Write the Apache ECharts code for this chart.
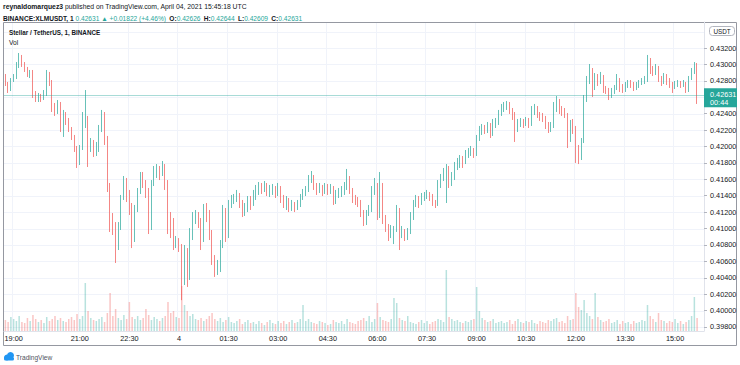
<!DOCTYPE html>
<html><head><meta charset="utf-8">
<style>html,body{margin:0;padding:0;background:#fff}#c{width:740px;height:365px}</style>
<script src="https://cdn.jsdelivr.net/npm/echarts@6/dist/echarts.min.js"></script>
</head><body><div id="c"></div>
<script>
// 5-minute candles from 18:45 (Apr 3) to 15:40 (Apr 4): [open, close, low, high]
const candles = [
[.42834,.42761,.42737,.42883],[.42761,.42688,.42652,.42786],[.42688,.42810,.42676,.42834],[.42810,.42847,.42786,.42883],[.42847,.42981,.42822,.43029],
[.42981,.43090,.42956,.43139],[.43090,.43005,.42969,.43115],[.43005,.42956,.42908,.43029],[.42956,.42883,.42847,.42969],[.42883,.42908,.42834,.42932],
[.42908,.42664,.42591,.42932],[.42664,.42591,.42542,.42676],[.42591,.42615,.42542,.42652],[.42615,.42579,.42542,.42640],[.42579,.42640,.42566,.42688],
[.42640,.42883,.42615,.42932],[.42883,.42786,.42737,.42908],[.42786,.42506,.42420,.42810],[.42506,.42445,.42372,.42530],[.42445,.42518,.42396,.42566],
[.42518,.42225,.42176,.42542],[.42225,.42384,.42116,.42445],[.42384,.42323,.42262,.42420],[.42323,.42225,.42176,.42347],[.42225,.42128,.42079,.42237],
[.42128,.41981,.41933,.42140],[.41981,.41811,.41738,.42006],[.41811,.41981,.41774,.42018],[.41981,.42262,.41957,.42420],[.42262,.42347,.42225,.42688],
[.42347,.41957,.41750,.42372],[.41957,.42055,.41933,.42103],[.42055,.41957,.41872,.42079],[.41957,.41981,.41884,.42055],[.41981,.42201,.41933,.42262],
[.42201,.42384,.42176,.42445],[.42384,.42103,.42018,.42420],[.42103,.41531,.41445,.42128],[.41531,.41165,.40958,.41555],[.41165,.41043,.40921,.41189],
[.41043,.40799,.40580,.41079],[.40799,.41006,.40738,.41079],[.41006,.41372,.40982,.41409],[.41372,.41567,.41348,.41640],[.41567,.41445,.41323,.41616],
[.41445,.41287,.41165,.41470],[.41287,.40860,.40762,.41311],[.40860,.41226,.40836,.41287],[.41226,.41445,.41201,.41494],[.41445,.41616,.41421,.41689],
[.41616,.41555,.41494,.41689],[.41555,.41470,.41372,.41591],[.41470,.41006,.40933,.41494],[.41006,.41531,.40982,.41591],[.41531,.41689,.41518,.41762],
[.41689,.41713,.41616,.41786],[.41713,.41665,.41591,.41762],[.41665,.41762,.41640,.41823],[.41762,.41567,.41470,.41786],[.41567,.41165,.40933,.41591],
[.41165,.41079,.40884,.41201],[.41079,.40836,.40738,.41128],[.40836,.40860,.40762,.40909],[.40860,.40787,.40714,.40884],[.40787,.40495,.40127,.40811],
[.40495,.40714,.40312,.40799],[.40714,.40434,.40288,.40762],[.40434,.40884,.40373,.41006],[.40884,.41104,.40860,.41201],[.41104,.41165,.41055,.41226],
[.41165,.41104,.41006,.41201],[.41104,.40860,.40738,.41128],[.40860,.41250,.40836,.41299],[.41250,.41201,.41079,.41311],[.41201,.40958,.40860,.41226],
[.40958,.40640,.40556,.40982],[.40640,.40495,.40410,.40677],[.40495,.40519,.40434,.40617],[.40519,.40799,.40470,.40860],[.40799,.41226,.40762,.41287],
[.41226,.40921,.40836,.41250],[.40921,.41287,.40884,.41348],[.41287,.41348,.41250,.41409],[.41348,.41372,.41299,.41421],[.41372,.41409,.41323,.41470],
[.41409,.41311,.41250,.41433],[.41311,.41201,.41140,.41348],[.41201,.41226,.41153,.41311],[.41226,.41348,.41201,.41396],[.41348,.41299,.41226,.41396],
[.41299,.41396,.41275,.41470],[.41396,.41470,.41348,.41531],[.41470,.41518,.41409,.41567],[.41518,.41494,.41421,.41555],[.41494,.41531,.41445,.41579],
[.41531,.41445,.41396,.41555],[.41445,.41470,.41384,.41531],[.41470,.41494,.41409,.41543],[.41494,.41421,.41372,.41518],[.41421,.41494,.41396,.41555],
[.41494,.41372,.41311,.41518],[.41372,.41323,.41250,.41409],[.41323,.41348,.41226,.41396],[.41348,.41262,.41201,.41372],[.41262,.41287,.41214,.41348],
[.41287,.41250,.41201,.41323],[.41250,.41299,.41226,.41348],[.41299,.41372,.41262,.41421],[.41372,.41433,.41348,.41482],[.41433,.41470,.41396,.41518],
[.41470,.41591,.41445,.41652],[.41591,.41640,.41555,.41701],[.41640,.41518,.41470,.41652],[.41518,.41470,.41409,.41555],[.41470,.41506,.41433,.41555],
[.41506,.41445,.41396,.41531],[.41445,.41518,.41421,.41555],[.41518,.41470,.41409,.41543],[.41470,.41494,.41421,.41543],[.41494,.41336,.41287,.41518],
[.41336,.41396,.41299,.41470],[.41396,.41445,.41372,.41494],[.41445,.41470,.41384,.41518],[.41470,.41494,.41409,.41567],[.41494,.41616,.41470,.41726],
[.41616,.41470,.41421,.41640],[.41470,.41372,.41311,.41494],[.41372,.41348,.41287,.41409],[.41348,.41323,.41262,.41384],[.41323,.41201,.41140,.41348],
[.41201,.41079,.41031,.41226],[.41079,.41177,.41043,.41226],[.41177,.41226,.41153,.41287],[.41226,.41470,.41201,.41518],[.41470,.41531,.41409,.41616],
[.41531,.41165,.41104,.41555],[.41165,.41531,.41128,.41689],[.41531,.41128,.41055,.41555],[.41128,.41031,.40958,.41165],[.41031,.40909,.40848,.41055],
[.40909,.40958,.40884,.41043],[.40958,.40982,.40811,.41031],[.40982,.41226,.40958,.41287],[.41226,.40921,.40738,.41250],[.40921,.40958,.40884,.41031],
[.40958,.40897,.40848,.40994],[.40897,.40958,.40860,.41006],[.40958,.41128,.40933,.41201],[.41128,.41287,.41104,.41348],[.41287,.41348,.41262,.41409],
[.41348,.41311,.41250,.41396],[.41311,.41372,.41287,.41433],[.41372,.41396,.41336,.41445],[.41396,.41421,.41360,.41470],[.41421,.41384,.41336,.41445],
[.41384,.41311,.41275,.41421],[.41311,.41287,.41250,.41348],[.41287,.41531,.41275,.41591],[.41531,.41616,.41494,.41665],[.41616,.41665,.41579,.41738],
[.41665,.41738,.41311,.41786],[.41738,.41567,.41494,.41762],[.41567,.41616,.41518,.41689],[.41616,.41738,.41591,.41811],[.41738,.41774,.41713,.41860],
[.41774,.41835,.41738,.41896],[.41835,.41811,.41738,.41884],[.41811,.41896,.41786,.41957],[.41896,.41921,.41860,.41981],[.41921,.41957,.41884,.42006],
[.41957,.41908,.41860,.41981],[.41908,.42079,.41884,.42140],[.42079,.42176,.42067,.42250],[.42176,.42225,.42140,.42274],[.42225,.42189,.42152,.42262],
[.42189,.42237,.42164,.42298],[.42237,.42152,.42103,.42286],[.42152,.42274,.42128,.42335],[.42274,.42298,.42225,.42347],[.42298,.42384,.42262,.42445],
[.42384,.42469,.42372,.42518],[.42469,.42493,.42420,.42542],[.42493,.42518,.42445,.42554],[.42518,.42445,.42396,.42542],[.42445,.42384,.42323,.42469],
[.42384,.42201,.42055,.42420],[.42201,.42274,.42176,.42335],[.42274,.42298,.42237,.42347],[.42298,.42262,.42225,.42335],[.42262,.42311,.42250,.42359],
[.42311,.42286,.42225,.42347],[.42286,.42420,.42250,.42493],[.42420,.42469,.42384,.42518],[.42469,.42396,.42347,.42493],[.42396,.42372,.42311,.42420],
[.42372,.42347,.42298,.42408],[.42347,.42274,.42213,.42372],[.42274,.42201,.42164,.42298],[.42201,.42237,.42176,.42298],[.42237,.42445,.42225,.42542],
[.42445,.42566,.42420,.42615],[.42566,.42469,.42396,.42579],[.42469,.42420,.42372,.42493],[.42420,.42396,.42347,.42469],[.42396,.42079,.41981,.42408],
[.42079,.42250,.42055,.42323],[.42250,.42225,.42152,.42335],[.42225,.41957,.41799,.42250],[.41957,.41884,.41786,.42018],[.41884,.42055,.41835,.42103],
[.42055,.42566,.42042,.42627],[.42566,.42810,.42542,.42859],[.42810,.42932,.42761,.43005],[.42932,.42713,.42603,.42956],[.42713,.42834,.42688,.42895],
[.42834,.42810,.42737,.42883],[.42810,.42859,.42761,.42908],[.42859,.42713,.42652,.42871],[.42713,.42688,.42640,.42737],[.42688,.42615,.42566,.42713],
[.42615,.42664,.42591,.42713],[.42664,.42713,.42640,.42749],[.42713,.42810,.42688,.42883],[.42810,.42737,.42664,.42834],[.42737,.42713,.42652,.42761],
[.42713,.42749,.42664,.42786],[.42749,.42774,.42713,.42810],[.42774,.42761,.42713,.42810],[.42761,.42725,.42676,.42786],[.42725,.42749,.42688,.42786],
[.42749,.42774,.42713,.42810],[.42774,.42798,.42749,.42834],[.42798,.42810,.42761,.42859],[.42810,.43054,.42786,.43115],[.43054,.42932,.42883,.43078],
[.42932,.42908,.42859,.42981],[.42908,.42956,.42871,.43005],[.42956,.42834,.42786,.42981],[.42834,.42786,.42737,.42859],[.42786,.42834,.42761,.42895],
[.42834,.42810,.42749,.42883],[.42810,.42761,.42713,.42834],[.42761,.42713,.42652,.42786],[.42713,.42761,.42700,.42798],[.42761,.42774,.42725,.42810],
[.42774,.42761,.42713,.42798],[.42761,.42774,.42725,.42810],[.42774,.42713,.42652,.42786],[.42713,.42810,.42664,.42859],[.42810,.42908,.42810,.42956],
[.42908,.43005,.42883,.43029],[.43005,.42631,.42518,.43017]
];
// volume per candle (thousand XLM)
const volumes = [
110,90,140,120,100,150,90,80,130,100,
160,120,90,110,80,140,100,120,150,110,
130,100,90,120,140,110,170,120,150,480,
200,130,110,100,120,140,90,180,380,150,
220,130,110,160,120,290,140,120,150,110,
130,220,160,110,140,120,100,130,150,290,
180,200,140,130,450,260,200,150,170,120,
110,130,100,120,150,180,120,100,130,90,
110,140,90,80,100,120,70,90,110,80,
90,70,100,80,60,90,110,80,70,100,
80,100,70,90,110,80,90,120,260,100,
120,90,80,70,100,90,80,60,70,110,
90,80,100,70,120,90,80,70,100,110,
130,100,150,90,120,280,140,110,100,90,
120,330,280,130,110,100,150,90,80,70,
90,110,80,100,70,90,100,120,110,90,
610,140,120,100,110,90,80,100,90,110,
120,440,200,130,110,90,100,120,80,90,
100,80,90,110,70,100,120,90,80,100,
90,110,80,70,100,90,80,110,100,120,
130,90,100,80,150,110,120,380,240,210,
310,180,150,120,380,140,110,90,100,120,
80,90,110,70,100,80,90,70,100,80,
90,110,100,260,150,120,90,180,110,100,
80,100,90,120,80,100,70,90,110,150,
340,130
];
const tickTimes  = ['19:00','21:00','22:30','00:00','01:30','03:00','04:30','06:00','07:30','09:00','10:30','12:00','13:30','15:00'];
const tickLabels = ['19:00','21:00','22:30','4','01:30','03:00','04:30','06:00','07:30','09:00','10:30','12:00','13:30','15:00'];
// price scale labels (0.42600 sits under the last-price tag, so it is not listed)
const priceTicks = [0.398,0.400,0.402,0.404,0.406,0.408,0.410,0.412,0.414,0.416,0.418,0.420,0.422,0.424,0.428,0.430,0.432];
const gridLevels = [0.398,0.400,0.402,0.404,0.406,0.408,0.410,0.412,0.414,0.416,0.418,0.420,0.422,0.424,0.426,0.428,0.430,0.432,0.434];
const lastPrice = 0.42631;

// time categories every 5 minutes starting 18:45, plus 2 empty slots of right margin
const categories = [];
for (let k = 0; k < candles.length + 2; k++) {
  const m = (18 * 60 + 45 + k * 5) % 1440;
  categories.push(String(Math.floor(m / 60)).padStart(2, '0') + ':' + String(m % 60).padStart(2, '0'));
}

const UP = '#26a69a', DOWN = '#ef5350';
const FONT = 'Liberation Sans, Arial, sans-serif';
const isTick = (idx, val) => tickTimes.indexOf(val) >= 0;
const near = (a, b) => Math.abs(a - b) < 1e-7;
const PANE_L = 4, PANE_R = 704;

const chart = echarts.init(document.getElementById('c'), null, {renderer: 'svg'});
const volData = volumes.map((v, i) => ({
  value: v,
  itemStyle: {color: candles[i][1] >= candles[i][0] ? 'rgba(38,166,154,0.33)' : 'rgba(239,83,80,0.33)'}
}));

chart.setOption({
  animation: false,
  backgroundColor: '#ffffff',
  grid: [
    {left: 4, right: 36, top: 15.18, bottom: 21.59},
    {left: 4, right: 36, top: 250, bottom: 34},
    {left: 4, right: 36, top: 22, bottom: 34}
  ],
  xAxis: [
    {type: 'category', gridIndex: 0, data: categories, boundaryGap: true, show: false},
    {type: 'category', gridIndex: 1, data: categories, boundaryGap: true, show: false},
    {type: 'category', gridIndex: 2, data: categories, boundaryGap: true,
     axisLine: {show: true, lineStyle: {color: '#e0e3eb'}},
     axisTick: {show: false},
     axisLabel: {interval: isTick, formatter: v => tickLabels[tickTimes.indexOf(v)], color: '#131722',
                 fontSize: 7.3, fontFamily: FONT, margin: 4},
     splitLine: {show: true, interval: isTick, lineStyle: {color: '#f0f3fa', width: 1}}}
  ],
  yAxis: [
    {type: 'value', gridIndex: 0, position: 'right', min: 0.396, max: 0.436, interval: 0.002,
     axisLine: {show: false},
     axisTick: {show: true, length: 3, lineStyle: {color: '#b2b5be'}, customValues: priceTicks},
     axisLabel: {customValues: priceTicks, margin: 6, color: '#131722', fontSize: 7.3, fontFamily: FONT,
                 formatter: v => priceTicks.some(t => near(t, v)) ? v.toFixed(5) : ''},
     splitLine: {show: false}},
    {type: 'value', gridIndex: 1, min: 0, max: 810, show: false},
    {type: 'value', gridIndex: 2, position: 'right', min: 0, max: 1,
     axisLine: {show: true, lineStyle: {color: '#e0e3eb'}}, axisTick: {show: false},
     axisLabel: {show: false}, splitLine: {show: false}}
  ],
  series: [
    {type: 'bar', xAxisIndex: 1, yAxisIndex: 1, data: volData, barWidth: '55%', z: 2, silent: true},
    {type: 'candlestick', xAxisIndex: 0, yAxisIndex: 0, data: candles, z: 3, barWidth: 1, silent: true,
     itemStyle: {color: UP, color0: DOWN, borderColor: UP, borderColor0: DOWN, borderWidth: 0.7}}
  ]
});

// horizontal price grid lines and the last-price line, placed through the price axis
const levelY = v => Math.round(chart.convertToPixel({yAxisIndex: 0}, v)) + 0.5;
const gridLines = gridLevels.map(v => ({
  type: 'line', z: -1, silent: true,
  shape: {x1: PANE_L, y1: levelY(v), x2: PANE_R, y2: levelY(v)},
  style: {stroke: '#f0f3fa', lineWidth: 1}
}));
const py = chart.convertToPixel({yAxisIndex: 0}, lastPrice);
chart.setOption({
  graphic: gridLines.concat([
    {type: 'line', z: 50, silent: true, shape: {x1: PANE_L, y1: levelY(lastPrice), x2: PANE_R, y2: levelY(lastPrice)},
     style: {stroke: 'rgba(38,166,154,0.4)', lineWidth: 1}},
    {type: 'rect', shape: {x: 3.5, y: 22.5, width: 733, height: 323}, style: {fill: 'none', stroke: '#9598a1', lineWidth: 1}, silent: true},
    {type: 'text', left: 3, top: 2.5, style: {rich: {b: {fontWeight: 'bold', fontSize: 6.8, fontFamily: FONT, fill: '#131722'}, n: {fontSize: 6.8, fontFamily: FONT, fill: '#131722'}},
      text: '{b|reynaldomarquez3}{n| published on TradingView.com, April 04, 2021 15:45:18 UTC}'}},
    {type: 'text', left: 3, top: 12, style: {rich: {b: {fontWeight: 'bold', fontSize: 6.6, fontFamily: FONT, fill: '#131722'}, g: {fontSize: 6.6, fontFamily: FONT, fill: UP}, n: {fontSize: 6.6, fontFamily: FONT, fill: '#131722'}},
      text: '{b|BINANCE:XLMUSDT, 1}{g| 0.42631 \u25B2 +0.01822 (+4.46%)} {b|O:}{g|0.42626} {b|H:}{g|0.42644} {b|L:}{g|0.42609} {b|C:}{g|0.42631}'}},
    {type: 'text', left: 9, top: 29, style: {text: 'Stellar / TetherUS, 1, BINANCE', fontWeight: 'bold', fontSize: 6.3, fontFamily: FONT, fill: '#131722'}},
    {type: 'text', left: 9, top: 38.5, style: {text: 'Vol', fontSize: 6.6, fontFamily: FONT, fill: '#131722'}},
    {type: 'rect', shape: {x: 709.5, y: 26.5, width: 25, height: 9, r: 3}, style: {fill: '#fff', stroke: '#b2b5be', lineWidth: 1}},
    {type: 'text', x: 722, y: 31, style: {text: 'USDT', fontSize: 6.3, fontFamily: FONT, fill: '#131722', align: 'center', verticalAlign: 'middle'}},
    {type: 'rect', z: 100, shape: {x: 704, y: py - 6.5, width: 33, height: 19}, style: {fill: UP}},
    {type: 'text', z: 101, x: 710, y: py, style: {text: lastPrice.toFixed(5), fontSize: 7.3, fontFamily: FONT, fill: '#fff', verticalAlign: 'middle'}},
    {type: 'text', z: 101, x: 710, y: py + 8, style: {text: '00:44', fontSize: 7.3, fontFamily: FONT, fill: '#fff', verticalAlign: 'middle'}},
    {type: 'circle', shape: {cx: 7, cy: 357.5, r: 3}, style: {fill: '#2196f3'}},
    {type: 'circle', shape: {cx: 10.5, cy: 355.5, r: 3.5}, style: {fill: '#2196f3'}},
    {type: 'rect', shape: {x: 4, y: 357, width: 10, height: 3.5, r: 1.5}, style: {fill: '#2196f3'}},
    {type: 'text', left: 16, top: 354, style: {text: 'TradingView', fontSize: 6.6, fontFamily: FONT, fill: '#50535e'}}
  ])
});
</script>
</body></html>
